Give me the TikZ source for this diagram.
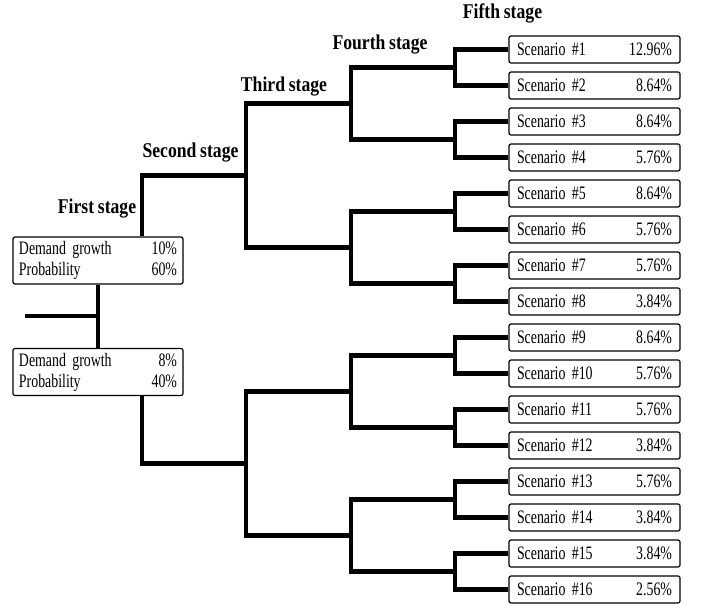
\documentclass[tikz,border=0pt]{standalone}
\usepackage{fontspec}
\setmainfont{Liberation Serif}[FakeStretch=0.73, WordSpace=0.7]
\newfontfamily\stagefont{Liberation Serif}[FakeStretch=0.84, WordSpace=0.85]
\usetikzlibrary{positioning, calc}
\tikzset{
  scenbox/.style={
    draw, rectangle, rounded corners=2pt, line width=1.2pt,
    minimum width=171pt, minimum height=27pt, text width=155pt,
    inner xsep=8pt, inner ysep=0pt,
    font=\fontsize{19}{19}\selectfont
  },
  growbox/.style={
    draw, rectangle, rounded corners=2pt, line width=1.2pt,
    minimum width=170pt, minimum height=47pt, text width=158pt,
    inner xsep=6pt, inner ysep=0pt,
    font=\fontsize{19}{21}\selectfont
  },
  stagelabel/.style={
    font=\stagefont\bfseries\fontsize{21}{21}\selectfont, inner sep=0pt
  },
  branch/.style={
    draw, line width=4.5pt, line join=miter
  },
}

\begin{document}
\begin{tikzpicture}[x=1pt, y=-1pt]
\useasboundingbox (0,0) rectangle (702,604);

% ── Nodes ──────────────────────────────────────────────────────────────────
% First stage: demand growth boxes
\node[growbox] (grow10) at (98,260.5) {Demand growth\hfill 10\%\\Probability\hfill 60\%};
\node[growbox] (grow8)  at (98,372)   {Demand growth\hfill 8\%\\Probability\hfill 40\%};

% Fifth stage: scenario boxes
\foreach \k/\p in {1/12.96, 2/8.64, 3/8.64, 4/5.76, 5/8.64, 6/5.76, 7/5.76, 8/3.84,
                   9/8.64, 10/5.76, 11/5.76, 12/3.84, 13/5.76, 14/3.84, 15/3.84, 16/2.56}
  \node[scenbox] (s\k) at (594.5, {49.5+36*(\k-1)}) {Scenario \#\k\hfill \p\%};

% Stage labels
\node[stagelabel] (lab1) at (97,209)    {First stage};
\node[stagelabel] (lab2) at (190.5,153) {Second stage};
\node[stagelabel] (lab3) at (284,87)    {Third stage};
\node[stagelabel] (lab4) at (380,45)    {Fourth stage};
\node[stagelabel] (lab5) at (502.5,13)  {Fifth stage};

% ── Junctions ──────────────────────────────────────────────────────────────
\coordinate (root) at (25,316);
\foreach \i in {1,...,8}
  \coordinate (f\i) at (455, {67.5+72*(\i-1)});
\foreach \i in {1,...,4}
  \coordinate (d\i) at (351, {103.5+144*(\i-1)});
\foreach \i in {1,2}
  \coordinate (t\i) at (246, {175.5+288*(\i-1)});

% ── Branches ───────────────────────────────────────────────────────────────
% first stage
\draw[branch] (root) -- (root -| grow10.south);
\draw[branch] (grow10.south) -- (grow8.north);

% second stage
\draw[branch] (t1) -| ([xshift=44pt]grow10.north);
\draw[branch] (t2) -| ([xshift=44pt]grow8.south);

% third stage
\draw[branch] (d1) -| (t1) |- (d2);
\draw[branch] (d3) -| (t2) |- (d4);

% fourth stage
\foreach \g [evaluate=\g as \a using int(2*\g-1), evaluate=\g as \b using int(2*\g)] in {1,...,4}
  \draw[branch] (f\a) -| (d\g) |- (f\b);

% fifth stage
\foreach \i [evaluate=\i as \a using int(2*\i-1), evaluate=\i as \b using int(2*\i)] in {1,...,8}
  \draw[branch] (s\a.west) -| (f\i) |- (s\b.west);

\end{tikzpicture}
\end{document}
